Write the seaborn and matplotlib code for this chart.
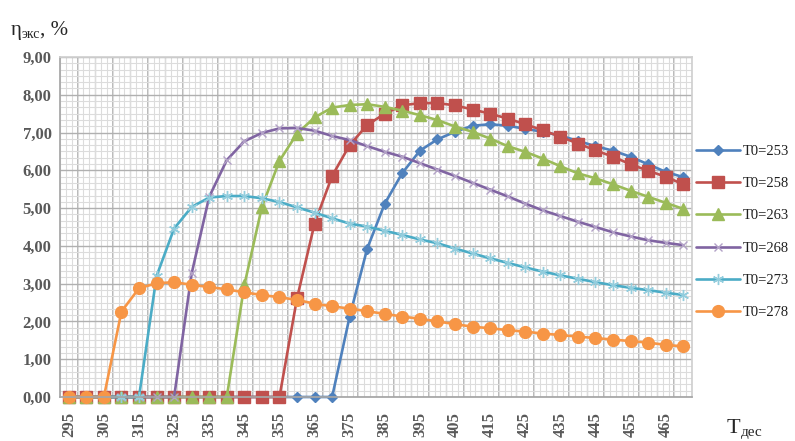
import numpy as np
import pandas as pd
import seaborn as sns
import matplotlib.pyplot as plt
from matplotlib.ticker import MultipleLocator, FuncFormatter

# данные
t_des = [295, 300, 305, 310, 315, 320, 325, 330, 335, 340, 345, 350,
         355, 360, 365, 370, 375, 380, 385, 390, 395, 400, 405, 410,
         415, 420, 425, 430, 435, 440, 445, 450, 455, 460, 465, 470]

eta_253 = [0, 0, 0, 0, 0, 0, 0, 0, 0, 0, 0, 0, 0, 0, 0, 0,
           2.13, 3.93, 5.12, 5.93, 6.52, 6.82, 7.02, 7.18, 7.22, 7.18,
           7.10, 7.02, 6.92, 6.78, 6.64, 6.52, 6.36, 6.16, 5.96, 5.82]
eta_258 = [0, 0, 0, 0, 0, 0, 0, 0, 0, 0, 0, 0, 0,
           2.61, 4.59, 5.85, 6.67, 7.20, 7.50, 7.72, 7.78, 7.78, 7.72, 7.61,
           7.50, 7.37, 7.22, 7.06, 6.89, 6.71, 6.53, 6.36, 6.16, 5.99, 5.83, 5.63]
eta_263 = [0, 0, 0, 0, 0, 0, 0, 0, 0, 0,
           2.96, 5.03, 6.25, 6.97, 7.40, 7.66, 7.73, 7.75, 7.68, 7.58, 7.46,
           7.33, 7.16, 7.02, 6.84, 6.64, 6.49, 6.31, 6.11, 5.92, 5.79, 5.63,
           5.46, 5.30, 5.14, 4.98]
eta_268 = [0, 0, 0, 0, 0, 0, 0,
           3.27, 5.30, 6.27, 6.77, 6.99, 7.11, 7.12, 7.05, 6.91, 6.80, 6.64,
           6.49, 6.36, 6.19, 6.02, 5.85, 5.67, 5.49, 5.31, 5.12, 4.94, 4.79,
           4.64, 4.50, 4.36, 4.25, 4.15, 4.08, 4.02]
eta_273 = [0, 0, 0, 0, 0,
           3.20, 4.46, 5.03, 5.28, 5.32, 5.32, 5.26, 5.16, 5.02, 4.88, 4.73,
           4.59, 4.51, 4.40, 4.29, 4.17, 4.07, 3.93, 3.80, 3.67, 3.55, 3.43,
           3.32, 3.22, 3.13, 3.04, 2.96, 2.89, 2.83, 2.76, 2.70]
eta_278 = [0, 0, 0,
           2.26, 2.88, 3.01, 3.04, 2.97, 2.91, 2.85, 2.77, 2.70, 2.64, 2.57,
           2.47, 2.40, 2.34, 2.27, 2.20, 2.13, 2.07, 2.00, 1.93, 1.86, 1.82,
           1.77, 1.73, 1.68, 1.64, 1.60, 1.56, 1.52, 1.48, 1.44, 1.38, 1.34]

labels = ["T0=253", "T0=258", "T0=263", "T0=268", "T0=273", "T0=278"]
series = [eta_253, eta_258, eta_263, eta_268, eta_273, eta_278]

df = pd.concat([pd.DataFrame({"T": t_des, "eta": s, "T0": lab})
                for lab, s in zip(labels, series)], ignore_index=True)

# стиль как в Excel 2010
colors = ["#4F81BD", "#C0504D", "#9BBB59", "#8064A2", "#4BACC6", "#F79646"]
mcolors = ["#4F81BD", "#C0504D", "#9BBB59", "#B3A2C7", "#93CDDD", "#F79646"]
markers = ["D", "s", "^", "x", (6, 2, 0), "o"]
msizes = [5.5, 8.5, 8, 6, 8, 8.5]

sns.set_theme(style="white")
plt.rcParams["font.family"] = ["Liberation Serif", "DejaVu Serif"]

fig = plt.figure(figsize=(7.95, 4.41), dpi=100)
ax = fig.add_axes([60 / 795, 1 - 397 / 441, 632 / 795, 340 / 441])

for lab, c, mc, m, ms in zip(labels, colors, mcolors, markers, msizes):
    sns.lineplot(data=df[df["T0"] == lab], x="T", y="eta", ax=ax,
                 color=c, linewidth=1.9, marker=m, markersize=ms,
                 markerfacecolor=mc, markeredgecolor=mc,
                 markeredgewidth=1.0, label=lab, legend=False, clip_on=False)

# оси и сетка
ax.set_xlim(292.5, 472.5)
ax.set_ylim(0, 9)
ax.set_xlabel("")
ax.set_ylabel("")

for i, b in enumerate(np.arange(297.5, 472.5, 5)):
    ax.axvline(b, color="#a6a6a6" if i % 2 == 0 else "#bfbfbf",
               lw=1.1 if i % 2 == 0 else 0.9, zorder=0.5)
ax.set_xticks(np.arange(292.5, 472.6, 5 / 3), minor=True)
ax.yaxis.set_major_locator(MultipleLocator(1))
ax.yaxis.set_minor_locator(MultipleLocator(1 / 6))
ax.grid(which="minor", color="#dcdcdc", lw=0.8)
ax.grid(which="major", axis="y", color="#b0b0b0", lw=1.0)
ax.set_axisbelow(True)

ax.set_xticks(t_des[::2])
ax.set_xticklabels([str(t) for t in t_des[::2]], rotation=90)
ax.yaxis.set_major_formatter(FuncFormatter(lambda v, p: f"{v:.2f}".replace(".", ",")))
ax.tick_params(axis="both", which="both", length=0)
ax.tick_params(axis="x", pad=11)
ax.tick_params(axis="y", pad=6)
for t in ax.get_xticklabels() + ax.get_yticklabels():
    t.set_fontweight("bold")
    t.set_color("#595959")
    t.set_fontsize(12)

for side in ["left", "bottom"]:
    ax.spines[side].set_color("#a6a6a6")
for side in ["top", "right"]:
    ax.spines[side].set_color("#d0d0d0")

leg = fig.legend(*ax.get_legend_handles_labels(), loc="center left",
                 bbox_to_anchor=(0.876, 0.474), frameon=False,
                 fontsize=10.5, handlelength=3.0, labelspacing=1.3,
                 handletextpad=0.15, borderpad=0, borderaxespad=0)
for t in leg.get_texts():
    t.set_color("#202020")

# подписи осей
fig.text(11, 441 - 35, "η", fontsize=15, transform=None, va="baseline")
fig.text(22, 441 - 38, "экс", fontsize=10, transform=None, va="baseline")
fig.text(40, 441 - 35, ", %", fontsize=15, transform=None, va="baseline")
fig.text(727, 441 - 433, "T", fontsize=16, transform=None, va="baseline")
fig.text(741, 441 - 436, "дес", fontsize=11, transform=None, va="baseline")

fig.savefig("out.png", dpi=100)
